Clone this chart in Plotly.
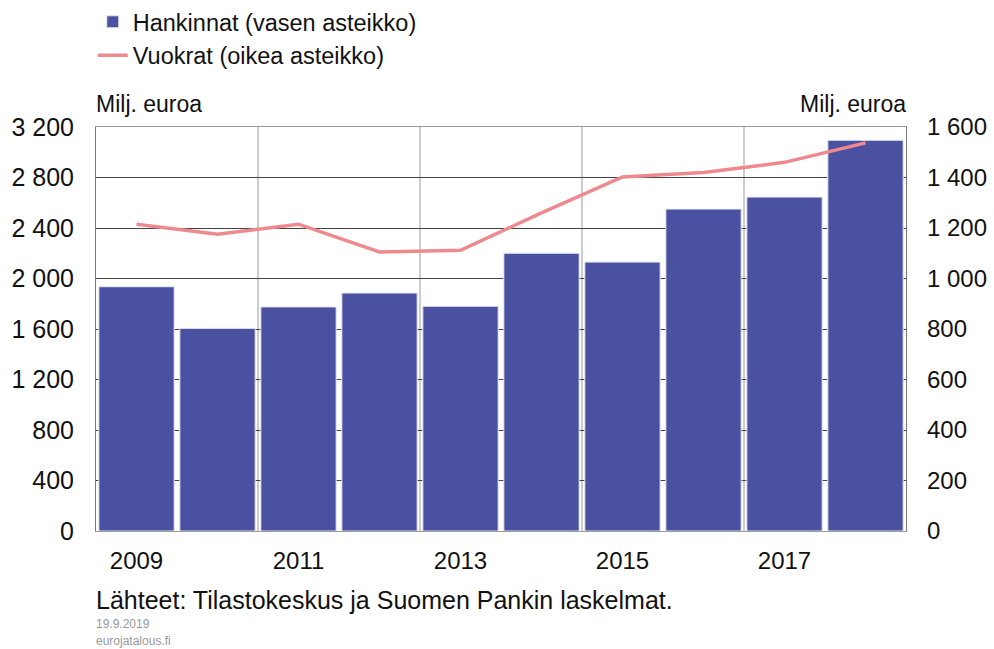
import plotly.graph_objects as go

years = [2009, 2010, 2011, 2012, 2013, 2014, 2015, 2016, 2017, 2018]
hankinnat = [1935, 1605, 1775, 1885, 1780, 2200, 2130, 2550, 2645, 3095]
vuokrat = [1215, 1175, 1215, 1105, 1112, 1260, 1402, 1420, 1460, 1537]

left_ticks = [0, 400, 800, 1200, 1600, 2000, 2400, 2800, 3200]
right_ticks = [0, 200, 400, 600, 800, 1000, 1200, 1400, 1600]
x_ticks = [2009, 2011, 2013, 2015, 2017]

FONT = "Liberation Sans, Arial, sans-serif"
BAR = "#4A51A0"
LINE = "#EE8A8E"

fig = go.Figure()

fig.add_trace(go.Bar(
    x=years, y=hankinnat,
    name="Hankinnat (vasen asteikko)",
    marker=dict(color=BAR, line=dict(color="#E8E8F2", width=1)),
))

fig.add_trace(go.Scatter(
    x=years, y=vuokrat,
    name="Vuokrat (oikea asteikko)",
    mode="lines",
    line=dict(color=LINE, width=3.5),
    yaxis="y2",
))

# vertical gridlines between every second year
for y in years[1:-1:2]:
    fig.add_shape(type="line", xref="x", yref="paper",
                  x0=y + 0.5, x1=y + 0.5, y0=0, y1=1,
                  line=dict(color="#9A9A9A", width=1), layer="below")

fig.update_layout(
    width=994, height=649,
    margin=dict(l=96, r=88, t=127, b=118, autoexpand=False),
    paper_bgcolor="white", plot_bgcolor="white",
    font=dict(family=FONT, size=24, color="#111"),
    separators=", ",
    bargap=0.07,
    showlegend=True,
    legend=dict(x=-0.004, y=1.0, xref="paper", yref="container",
                xanchor="left", yanchor="top",
                font=dict(size=23.5), itemwidth=30,
                tracegroupgap=0, bgcolor="rgba(0,0,0,0)"),
    xaxis=dict(range=[2008.5, 2018.5], tickvals=x_ticks,
               showgrid=False, showline=True, mirror=True,
               linecolor="#9A9A9A", linewidth=1, ticks="",
               ticklabelstandoff=8, zeroline=False),
    yaxis=dict(range=[0, 3200], tickvals=left_ticks, tickformat=",d",
               tickfont=dict(size=25),
               showgrid=True, gridcolor="#444", gridwidth=1,
               showline=True, linecolor="#777", mirror=True,
               ticks="", ticklabelstandoff=16, zeroline=False),
    yaxis2=dict(range=[0, 1600], tickvals=right_ticks, tickformat=",d",
                overlaying="y", side="right", showgrid=False,
                ticks="", ticklabelstandoff=20, zeroline=False,
                showline=False),
    annotations=[
        dict(text="Milj. euroa", x=-0.002, y=1.02, xref="paper", yref="paper",
             xanchor="left", yanchor="bottom", showarrow=False,
             font=dict(size=23)),
        dict(text="Milj. euroa", x=1.002, y=1.02, xref="paper", yref="paper",
             xanchor="right", yanchor="bottom", showarrow=False,
             font=dict(size=23)),
        dict(text="Lähteet: Tilastokeskus ja Suomen Pankin laskelmat.",
             x=-0.003, y=-0.171, xref="paper", yref="paper",
             xanchor="left", yanchor="middle", showarrow=False,
             font=dict(size=25)),
        dict(text="19.9.2019", x=-0.003, y=-0.2302, xref="paper", yref="paper",
             xanchor="left", yanchor="middle", showarrow=False,
             font=dict(size=12, color="#999")),
        dict(text="eurojatalous.fi", x=-0.003, y=-0.2723, xref="paper", yref="paper",
             xanchor="left", yanchor="middle", showarrow=False,
             font=dict(size=12, color="#999")),
    ],
)

fig.write_html("out.html", config={"displayModeBar": False},
               post_script="document.body.style.margin='0';")
